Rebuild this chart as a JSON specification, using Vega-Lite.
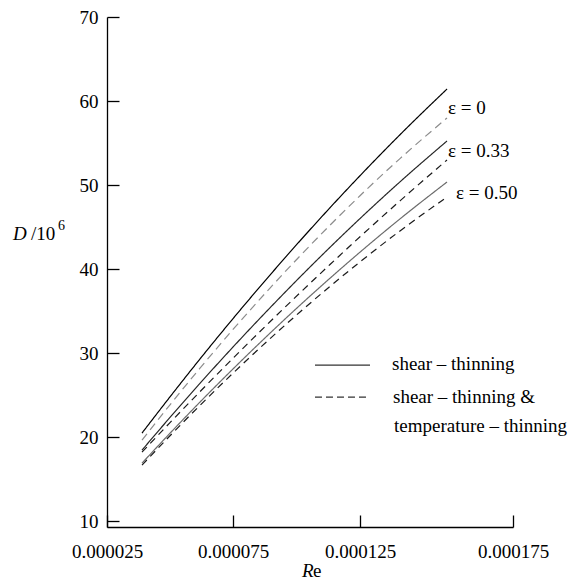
{
  "$schema": "https://vega.github.io/schema/vega-lite/v6.json",
  "width": 406,
  "height": 510,
  "autosize": {"type": "none"},
  "padding": {"left": 107, "top": 17, "right": 75, "bottom": 58},
  "background": "white",
  "config": {
    "view": {"stroke": null},
    "text": {"font": "Liberation Serif"},
    "axis": {
      "grid": false,
      "domainColor": "black",
      "tickColor": "black",
      "domainWidth": 1.3,
      "tickWidth": 1.3,
      "labelFont": "Liberation Serif",
      "labelFontSize": 19,
      "labelColor": "black",
      "labelOverlap": false,
      "labelFlush": false,
      "labelBound": false
    }
  },
  "datasets": {
    "curves": [
      {"re": 0.00003889, "d": 20.48, "series": "s0"},
      {"re": 0.00005, "d": 24.79, "series": "s0"},
      {"re": 0.0000619, "d": 29.3, "series": "s0"},
      {"re": 0.000075, "d": 34.1, "series": "s0"},
      {"re": 0.00008957, "d": 39.29, "series": "s0"},
      {"re": 0.00010138, "d": 43.36, "series": "s0"},
      {"re": 0.00011319, "d": 47.3, "series": "s0"},
      {"re": 0.000125, "d": 51.11, "series": "s0"},
      {"re": 0.00013807, "d": 55.99, "series": "s0"},
      {"re": 0.00015343, "d": 61.43, "series": "s0"},
      {"re": 0.00003889, "d": 19.64, "series": "d0"},
      {"re": 0.00005, "d": 23.85, "series": "d0"},
      {"re": 0.0000619, "d": 28.2, "series": "d0"},
      {"re": 0.000075, "d": 32.81, "series": "d0"},
      {"re": 0.00008957, "d": 37.74, "series": "d0"},
      {"re": 0.00010138, "d": 41.56, "series": "d0"},
      {"re": 0.00011319, "d": 45.22, "series": "d0"},
      {"re": 0.000125, "d": 48.73, "series": "d0"},
      {"re": 0.00013807, "d": 53.15, "series": "d0"},
      {"re": 0.00015343, "d": 57.98, "series": "d0"},
      {"re": 0.00003889, "d": 18.45, "series": "s1"},
      {"re": 0.00005, "d": 22.34, "series": "s1"},
      {"re": 0.0000619, "d": 26.4, "series": "s1"},
      {"re": 0.000075, "d": 30.72, "series": "s1"},
      {"re": 0.00008957, "d": 35.39, "series": "s1"},
      {"re": 0.00010138, "d": 39.05, "series": "s1"},
      {"re": 0.00011319, "d": 42.59, "series": "s1"},
      {"re": 0.000125, "d": 46.01, "series": "s1"},
      {"re": 0.00013807, "d": 50.38, "series": "s1"},
      {"re": 0.00015343, "d": 55.24, "series": "s1"},
      {"re": 0.00003889, "d": 18.21, "series": "d1"},
      {"re": 0.00005, "d": 21.72, "series": "d1"},
      {"re": 0.0000619, "d": 25.41, "series": "d1"},
      {"re": 0.000075, "d": 29.38, "series": "d1"},
      {"re": 0.00008957, "d": 33.73, "series": "d1"},
      {"re": 0.00010138, "d": 37.17, "series": "d1"},
      {"re": 0.00011319, "d": 40.54, "series": "d1"},
      {"re": 0.000125, "d": 43.84, "series": "d1"},
      {"re": 0.00013807, "d": 48.12, "series": "d1"},
      {"re": 0.00015343, "d": 52.98, "series": "d1"},
      {"re": 0.00003889, "d": 16.9, "series": "s2"},
      {"re": 0.00005, "d": 20.46, "series": "s2"},
      {"re": 0.0000619, "d": 24.17, "series": "s2"},
      {"re": 0.000075, "d": 28.11, "series": "s2"},
      {"re": 0.00008957, "d": 32.37, "series": "s2"},
      {"re": 0.00010138, "d": 35.7, "series": "s2"},
      {"re": 0.00011319, "d": 38.91, "series": "s2"},
      {"re": 0.000125, "d": 42.01, "series": "s2"},
      {"re": 0.00013807, "d": 45.97, "series": "s2"},
      {"re": 0.00015343, "d": 50.36, "series": "s2"},
      {"re": 0.00003889, "d": 16.67, "series": "d2"},
      {"re": 0.00005, "d": 20.16, "series": "d2"},
      {"re": 0.0000619, "d": 23.78, "series": "d2"},
      {"re": 0.000075, "d": 27.61, "series": "d2"},
      {"re": 0.00008957, "d": 31.71, "series": "d2"},
      {"re": 0.00010138, "d": 34.89, "series": "d2"},
      {"re": 0.00011319, "d": 37.94, "series": "d2"},
      {"re": 0.000125, "d": 40.85, "series": "d2"},
      {"re": 0.00013807, "d": 44.54, "series": "d2"},
      {"re": 0.00015343, "d": 48.57, "series": "d2"}
    ],
    "legendSolid": [{"x": 0.00010728, "x2": 0.00012827, "y": 28.57}],
    "legendDashed": [{"x": 0.00010728, "x2": 0.00012827, "y": 24.76}],
    "uprightText": [
      {"x": 0.00015376, "y": 58.45, "t": "ε = 0"},
      {"x": 0.00015376, "y": 53.33, "t": "ε = 0.33"},
      {"x": 0.00015637, "y": 48.33, "t": "ε = 0.50"},
      {"x": 0.00013546, "y": 27.98, "t": "shear – thinning"},
      {"x": 0.00013578, "y": 24.05, "t": "shear – thinning &"},
      {"x": 0.00013611, "y": 20.6, "t": "temperature – thinning"},
      {"x": -0.00000516, "y": 43.45, "t": "/10"},
      {"x": 0.0001065, "y": 3.33, "t": "e"}
    ],
    "italicText": [
      {"x": -0.0000123, "y": 43.45, "t": "D"},
      {"x": 0.00010217, "y": 3.33, "t": "R"}
    ],
    "supText": [
      {"x": 0.00000556, "y": 44.64, "t": "6"}
    ]
  },
  "layer": [
    {
      "data": {"name": "curves"},
      "mark": {"type": "line", "strokeWidth": 1.2, "interpolate": "monotone"},
      "encoding": {
        "x": {
          "field": "re",
          "type": "quantitative",
          "title": null,
          "scale": {
            "domain": [0.000025, 0.000075, 0.000125, 0.000175],
            "range": [0, 126, 253, 406],
            "nice": false,
            "zero": false
          },
          "axis": {
            "values": [0.000025, 0.000075, 0.000125, 0.000175],
            "format": ".6f",
            "tickSize": -12,
            "labelPadding": 27
          }
        },
        "y": {
          "field": "d",
          "type": "quantitative",
          "title": null,
          "scale": {"domain": [9.3, 70], "nice": false, "zero": false},
          "axis": {
            "values": [10, 20, 30, 40, 50, 60, 70],
            "format": "d",
            "tickSize": -12,
            "labelPadding": 21
          }
        },
        "detail": {"field": "series"},
        "color": {
          "field": "series",
          "type": "nominal",
          "legend": null,
          "scale": {
            "domain": ["s0", "d0", "s1", "d1", "s2", "d2"],
            "range": ["#000000", "#8c8c8c", "#262626", "#1a1a1a", "#6b6b6b", "#1a1a1a"]
          }
        },
        "strokeDash": {
          "field": "series",
          "type": "nominal",
          "legend": null,
          "scale": {
            "domain": ["s0", "d0", "s1", "d1", "s2", "d2"],
            "range": [[1, 0], [8, 5], [1, 0], [7, 5], [1, 0], [7, 5]]
          }
        }
      }
    },
    {
      "data": {"name": "legendSolid"},
      "mark": {"type": "rule", "color": "#333333", "strokeWidth": 1.2},
      "encoding": {
        "x": {"field": "x", "type": "quantitative", "title": null},
        "x2": {"field": "x2"},
        "y": {"field": "y", "type": "quantitative", "title": null}
      }
    },
    {
      "data": {"name": "legendDashed"},
      "mark": {"type": "rule", "color": "#333333", "strokeWidth": 1.2, "strokeDash": [7, 4]},
      "encoding": {
        "x": {"field": "x", "type": "quantitative", "title": null},
        "x2": {"field": "x2"},
        "y": {"field": "y", "type": "quantitative", "title": null}
      }
    },
    {
      "data": {"name": "uprightText"},
      "mark": {"type": "text", "font": "Liberation Serif", "fontSize": 19, "color": "black", "align": "left", "baseline": "alphabetic"},
      "encoding": {
        "x": {"field": "x", "type": "quantitative", "title": null},
        "y": {"field": "y", "type": "quantitative", "title": null},
        "text": {"field": "t"}
      }
    },
    {
      "data": {"name": "italicText"},
      "mark": {"type": "text", "font": "Liberation Serif", "fontSize": 19, "fontStyle": "italic", "color": "black", "align": "left", "baseline": "alphabetic"},
      "encoding": {
        "x": {"field": "x", "type": "quantitative", "title": null},
        "y": {"field": "y", "type": "quantitative", "title": null},
        "text": {"field": "t"}
      }
    },
    {
      "data": {"name": "supText"},
      "mark": {"type": "text", "font": "Liberation Serif", "fontSize": 14, "color": "black", "align": "left", "baseline": "alphabetic"},
      "encoding": {
        "x": {"field": "x", "type": "quantitative", "title": null},
        "y": {"field": "y", "type": "quantitative", "title": null},
        "text": {"field": "t"}
      }
    }
  ]
}
